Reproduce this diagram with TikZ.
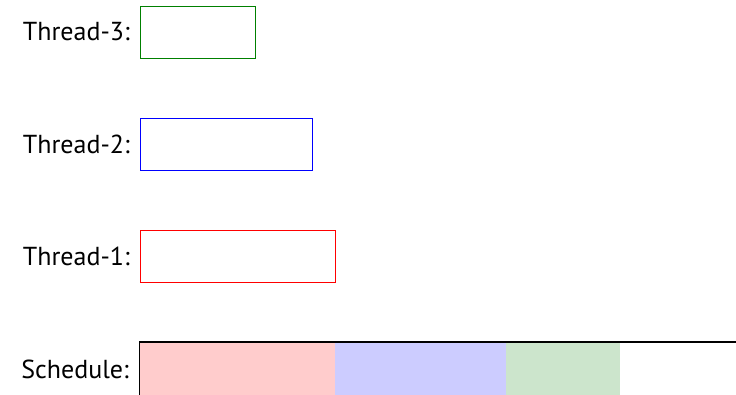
\documentclass[tikz,border=0pt]{standalone}
\usepackage{fontspec}
\setmainfont{PT Sans}
\begin{document}
\begin{tikzpicture}[x=1pt,y=-1pt,
  lbl/.style={anchor=east,inner sep=0pt,font=\fontsize{26}{30}\selectfont},
  thr/.style={draw,line width=1pt,minimum height=52pt,anchor=north west,inner sep=0pt},
  seg/.style={anchor=north west,inner sep=0pt,minimum height=53pt}]
\useasboundingbox (0,0) rectangle (736,395);
\begin{scope}
\clip (0,0) rectangle (736,395);
% thread boxes
\node[thr,draw=green!50!black,minimum width=115pt] (t3) at (140,6) {};
\node[thr,draw=blue,minimum width=172pt] (t2) at (140,118.5) {};
\node[thr,draw=red,minimum width=195pt] (t1) at (140,230.5) {};
% labels
\node[lbl] (l3) at (130,32) {Thread-3:};
\node[lbl] (l2) at (130,144.5) {Thread-2:};
\node[lbl] (l1) at (130,256.5) {Thread-1:};
\node[lbl] (ls) at (129,369) {Schedule:};
% schedule segments
\node[seg,fill=red!20,minimum width=196pt] (s1) at (140,342) {};
\node[seg,fill=blue!20,minimum width=172pt] (s2) at (335,342) {};
\node[seg,fill=green!50!black!20,minimum width=114pt] (s3) at (506,342) {};
\coordinate (se) at (740,342);
\coordinate (sb) at (139.6,400);
\draw[line width=1.3pt] (se) -- (139.6,342) -- (sb);
\end{scope}
\end{tikzpicture}
\end{document}
